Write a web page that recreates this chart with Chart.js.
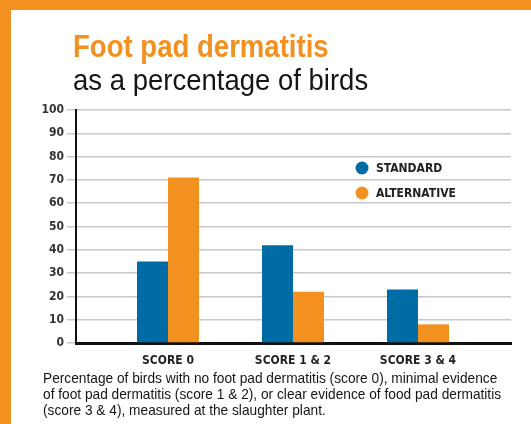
<!DOCTYPE html>
<html>
<head>
<meta charset="utf-8">
<script src="https://cdn.jsdelivr.net/npm/chart.js@4"></script>
<style>
  body { margin: 0; width: 531px; height: 424px; overflow: hidden; background: #fff;
         font-family: 'Liberation Sans', Arial, sans-serif; }
  #frame { position: absolute; left: 0; top: 0; width: 531px; height: 424px; box-sizing: border-box;
           border-top: 10px solid #f39120; border-left: 11px solid #f39120; }
  #chartBox { position: absolute; left: 0; top: 0; width: 531px; height: 424px; }
  .txt { position: absolute; white-space: nowrap; transform-origin: 0 0; }
  #title { left: 73px; top: 31px; font-size: 31px; font-weight: bold; color: #f39120; line-height: 31px; }
  #subtitle { left: 73px; top: 66px; font-size: 29px; color: #151515; line-height: 29px; }
  #caption { left: 43px; top: 370px; font-size: 15px; color: #151515; line-height: 16px; }
</style>
</head>
<body>
<div id="frame"></div>
<div id="chartBox"><canvas id="chart" width="531" height="424"></canvas></div>
<div class="txt" id="title" data-w="256">Foot pad dermatitis</div>
<div class="txt" id="subtitle" data-w="295">as a percentage of birds</div>
<div class="txt" id="caption" data-w="458">Percentage of birds with no foot pad dermatitis (score 0), minimal evidence<br>of foot pad dermatitis (score 1 &amp; 2), or clear evidence of food pad dermatitis<br>(score 3 &amp; 4), measured at the slaughter plant.</div>

<script>
// data
const categories  = ['SCORE 0', 'SCORE 1 & 2', 'SCORE 3 & 4'];
const standard    = [35, 42, 23];
const alternative = [71, 22, 8];
const seriesNames = ['STANDARD', 'ALTERNATIVE'];

const BLUE   = '#006ca5';
const ORANGE = '#f39120';
const FONT   = "'DejaVu Sans Condensed', 'Liberation Sans', sans-serif";

// the original uses a narrow face; squeeze the html text to its width
document.querySelectorAll('.txt').forEach(el => {
  el.style.transform = 'scaleX(' + (el.dataset.w / el.offsetWidth) + ')';
});

// ── legend drawn inside the plot, stacked
const innerLegend = {
  id: 'innerLegend',
  afterDraw(chart) {
    const ctx = chart.ctx;
    const area = chart.chartArea;
    ctx.save();
    chart.data.datasets.forEach((ds, i) => {
      const x = area.left + 286;
      const y = area.top + 58 + i * 25;
      ctx.fillStyle = ds.backgroundColor;
      ctx.beginPath();
      ctx.arc(x, y, 6.5, 0, Math.PI * 2);
      ctx.fill();
      ctx.fillStyle = '#222';
      ctx.font = 'bold 12px ' + FONT;
      ctx.textBaseline = 'middle';
      ctx.fillText(ds.label, x + 14, y + 1);
    });
    ctx.restore();
  }
};

new Chart(document.getElementById('chart'), {
  type: 'bar',
  data: {
    datasets: [
      { label: seriesNames[0], data: standard.map((v, i) => ({ x: i, y: v })),    backgroundColor: BLUE },
      { label: seriesNames[1], data: alternative.map((v, i) => ({ x: i, y: v })), backgroundColor: ORANGE }
    ]
  },
  options: {
    responsive: false,
    animation: false,
    categoryPercentage: 0.496,
    barPercentage: 1,
    layout: { padding: { left: 30, top: 110, right: 20, bottom: 53 } },
    plugins: { legend: { display: false }, tooltip: { enabled: false } },
    scales: {
      x: {
        type: 'linear',
        offset: false,
        min: -0.736,
        max: 2.744,
        afterBuildTicks: s => { s.ticks = categories.map((c, i) => ({ value: i })); },
        afterFit: s => { s.height = 28; },
        grid: { display: false },
        border: { color: '#111', width: 3 },
        ticks: {
          callback: v => categories[v],
          color: '#222',
          font: { family: FONT, size: 12, weight: 'bold' },
          padding: 3,
          maxRotation: 0
        }
      },
      y: {
        min: 0,
        max: 100,
        afterFit: s => { s.width = 46; },
        grid: { color: '#c8c8c8', lineWidth: 1.5, tickLength: 9 },
        border: { color: '#111', width: 2 },
        ticks: {
          stepSize: 10,
          color: '#333',
          font: { family: FONT, size: 12, weight: 'bold' },
          padding: 3
        }
      }
    }
  },
  plugins: [innerLegend]
});
</script>
</body>
</html>
